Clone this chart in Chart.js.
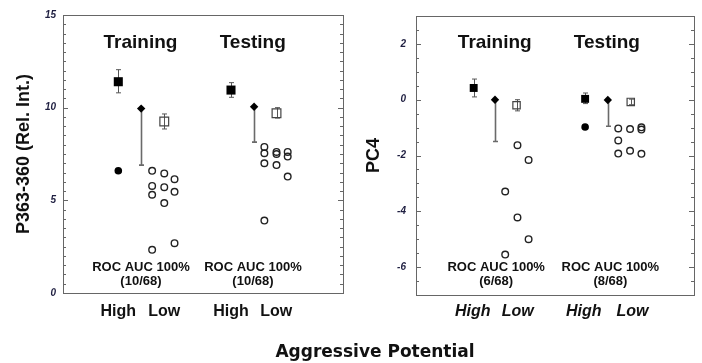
<!DOCTYPE html>
<html>
<head>
<meta charset="utf-8">
<script src="https://cdn.jsdelivr.net/npm/chart.js@4/dist/chart.umd.min.js"></script>
<style>
  html, body { margin: 0; padding: 0; background: #fff; }
  #wrap { position: relative; width: 702px; height: 363px; overflow: hidden; }
  canvas { position: absolute; top: 0; }
  #c1 { left: 0; }
  #c2 { left: 351px; }
  #xtitle {
    position: absolute; left: 375px; top: 341px; transform: translateX(-50%);
    font: bold 17px 'DejaVu Sans', sans-serif; line-height: 20px;
    white-space: nowrap; color: #111;
  }
</style>
</head>
<body>
<div id="wrap">
  <canvas id="c1" width="351" height="363"></canvas>
  <canvas id="c2" width="351" height="363"></canvas>
  <div id="xtitle">Aggressive Potential</div>
</div>
<script>
  // shared labels
  const GROUPS = ['Training', 'Testing'];
  const LEVELS = ['High', 'Low'];
  const ROC_LINE = 'ROC AUC 100%';

  // panel A: P363-360
  const A_TITLE = 'P363-360 (Rel. Int.)';
  const A_Y_TICKS = [0, 5, 10, 15];
  const A_FEATURES = ['(10/68)', '(10/68)'];
  const A_LEVEL_X = [2.37, 4.34, 7.2, 9.14];
  const A_HIGH_MEAN = [[2.37, 11.4], [7.2, 10.95]];
  const A_HIGH_ERR = [[10.8, 12.05], [10.56, 11.35]];
  const A_HIGH_PTS = [[2.37, 6.6]];
  const A_CUTOFF = [[3.35, 9.95], [8.19, 10.05]];
  const A_CUTOFF_LO = [6.9, 8.14];
  const A_LOW_MEAN = [[4.34, 9.25], [9.15, 9.7]];
  const A_LOW_ERR = [[8.85, 9.66], [9.44, 10.0]];
  const A_LOW_PTS = [
    [3.82, 6.59], [3.82, 5.78], [3.82, 5.30], [3.82, 2.33],
    [4.34, 6.45], [4.34, 5.71], [4.34, 4.85],
    [4.78, 6.14], [4.78, 5.46], [4.78, 2.69],
    [8.63, 7.88], [8.63, 7.54], [8.63, 7.0], [8.63, 3.91],
    [9.15, 7.61], [9.15, 7.5], [9.15, 6.9],
    [9.63, 7.61], [9.63, 7.36], [9.63, 6.28],
  ];

  // panel B: PC4
  const B_TITLE = 'PC4';
  const B_Y_TICKS = [-6, -4, -2, 0, 2];
  const B_FEATURES = ['(6/68)', '(8/68)'];
  const B_LEVEL_X = [2.45, 4.39, 7.24, 9.34];
  const B_HIGH_MEAN = [[2.49, 0.42], [7.3, 0.03]];
  const B_HIGH_ERR = [[0.1, 0.74], [-0.14, 0.24]];
  const B_HIGH_PTS = [[7.3, -0.98]];
  const B_CUTOFF = [[3.41, 0], [8.28, -0.01]];
  const B_CUTOFF_LO = [-1.5, -0.95];
  const B_LOW_MEAN = [[4.34, -0.2], [9.27, -0.08]];
  const B_LOW_ERR = [[-0.4, 0.0], [-0.18, 0.02]];
  const B_LOW_PTS = [
    [3.85, -3.29], [3.85, -5.55],
    [4.38, -1.63], [4.38, -4.22],
    [4.86, -2.16], [4.86, -5.0],
    [8.73, -1.03], [8.73, -1.46], [8.73, -1.93],
    [9.24, -1.05], [9.24, -1.83],
    [9.73, -0.99], [9.73, -1.07], [9.73, -1.94],
  ];

  const FONT = "'Liberation Sans', Arial, sans-serif";

  function pts(list) {
    return list.map(function (p) { return { x: p[0], y: p[1] }; });
  }

  // box, inward minor/major ticks
  const framePlugin = {
    id: 'frame',
    beforeDatasetsDraw: function (chart, args, opts) {
      const ctx = chart.ctx;
      const a = chart.chartArea;
      const ys = chart.scales.y;
      ctx.save();
      ctx.strokeStyle = '#666';
      ctx.lineWidth = 1;
      ctx.strokeRect(Math.round(a.left) + 0.5, Math.round(a.top) + 0.5,
        Math.round(a.right - a.left), Math.round(a.bottom - a.top));
      ctx.beginPath();
      for (let v = ys.min + opts.minor; v < ys.max - 1e-6; v += opts.minor) {
        const y = Math.round(ys.getPixelForValue(v)) + 0.5;
        const major = Math.abs(v / opts.major - Math.round(v / opts.major)) < 1e-6;
        const len = major ? 5 : 3;
        ctx.moveTo(a.left, y); ctx.lineTo(a.left + len, y);
        ctx.moveTo(a.right, y); ctx.lineTo(a.right - len, y);
      }
      ctx.stroke();
      ctx.restore();
    },
  };

  // error bars and cutoff lines
  const barsPlugin = {
    id: 'bars',
    beforeDatasetsDraw: function (chart) {
      const ctx = chart.ctx;
      const xs = chart.scales.x, ys = chart.scales.y;
      ctx.save();
      chart.data.datasets.forEach(function (ds) {
        if (!ds.ranges) return;
        ds.data.forEach(function (p, i) {
          const r = ds.ranges[i];
          const x = Math.round(xs.getPixelForValue(p.x)) + 0.5;
          const y1 = ys.getPixelForValue(r[0]);
          const y2 = ys.getPixelForValue(r[1]);
          ctx.strokeStyle = ds.rangeColor;
          ctx.lineWidth = ds.rangeWidth;
          ctx.beginPath();
          ctx.moveTo(x, y1); ctx.lineTo(x, y2);
          ds.rangeCaps.forEach(function (c) {
            const yc = ys.getPixelForValue(r[c]);
            ctx.moveTo(x - 2.5, yc); ctx.lineTo(x + 2.5, yc);
          });
          ctx.stroke();
        });
      });
      ctx.restore();
    },
  };

  // group titles and ROC notes
  const notesPlugin = {
    id: 'notes',
    afterDraw: function (chart, args, opts) {
      const ctx = chart.ctx;
      const xs = chart.scales.x, ys = chart.scales.y;
      ctx.save();
      ctx.fillStyle = '#111';
      ctx.textAlign = 'center';
      ctx.textBaseline = 'alphabetic';
      opts.items.forEach(function (t) {
        ctx.font = t.font;
        ctx.fillText(t.text, xs.getPixelForValue(t.x), ys.getPixelForValue(t.y));
      });
      ctx.restore();
    },
  };

  function buildPanel(canvas, p) {
    const datasets = [
      {
        label: 'high mean', data: pts(p.highMean),
        pointStyle: 'rect', pointRadius: p.sqR, backgroundColor: '#000', borderWidth: 0,
        ranges: p.highErr, rangeCaps: [0, 1], rangeColor: '#555', rangeWidth: 1,
      },
      {
        label: 'high samples', data: pts(p.highPts),
        pointStyle: 'circle', pointRadius: 3.8, backgroundColor: '#000', borderWidth: 0,
      },
      {
        label: 'cutoff', data: pts(p.cutoff),
        pointStyle: 'rectRot', pointRadius: 4.2, backgroundColor: '#000', borderWidth: 0,
        ranges: p.cutoff.map(function (c, i) { return [p.cutoffLo[i], c[1]]; }),
        rangeCaps: [0], rangeColor: '#6a6a6a', rangeWidth: 1.6,
      },
      {
        label: 'low mean', data: pts(p.lowMean),
        pointStyle: 'rect', pointRadius: p.openSqR, backgroundColor: 'rgba(255,255,255,0)',
        borderColor: '#444', borderWidth: 1.2,
        ranges: p.lowErr, rangeCaps: [0, 1], rangeColor: '#555', rangeWidth: 1,
      },
      {
        label: 'low samples', data: pts(p.lowPts),
        pointStyle: 'circle', pointRadius: 3.3, backgroundColor: 'rgba(255,255,255,0)',
        borderColor: '#222', borderWidth: 1.4,
      },
    ];

    const notes = [];
    GROUPS.forEach(function (g, i) {
      notes.push({ text: g, x: p.titleX[i], y: p.titleY, font: 'bold 19px ' + FONT });
      notes.push({ text: ROC_LINE, x: p.rocX[i], y: p.rocY[0], font: 'bold 13px ' + FONT });
      notes.push({ text: p.features[i], x: p.rocX[i], y: p.rocY[1], font: 'bold 13px ' + FONT });
    });

    return new Chart(canvas, {
      type: 'scatter',
      data: { datasets: datasets },
      plugins: [framePlugin, barsPlugin, notesPlugin],
      options: {
        responsive: false,
        animation: false,
        events: [],
        layout: { padding: { top: 15, right: 8, bottom: 0, left: 0 } },
        plugins: {
          legend: { display: false },
          tooltip: { enabled: false },
          frame: { minor: 0.5, major: p.major },
          notes: { items: notes },
        },
        scales: {
          x: {
            type: 'linear', min: 0, max: 12,
            grid: { display: false, drawTicks: false },
            border: { display: false },
            afterBuildTicks: function (s) {
              s.ticks = p.levelX.map(function (v) { return { value: v }; });
            },
            afterFit: function (s) { s.height = p.xAxisH; },
            ticks: {
              autoSkip: false, maxRotation: 0, padding: p.xPad,
              color: '#111',
              font: { family: FONT, size: 16, weight: 'bold', style: p.xItalic ? 'italic' : 'normal' },
              callback: function (v, i) { return LEVELS[i % 2]; },
            },
          },
          y: {
            type: 'linear', min: p.yMin, max: p.yMax,
            grid: { display: false, drawTicks: false },
            border: { display: false },
            afterBuildTicks: function (s) {
              s.ticks = p.yTicks.map(function (v) { return { value: v }; });
            },
            afterFit: function (s) { s.width = p.yAxisW; },
            ticks: {
              padding: p.yPad, color: '#1e1e40',
              font: { family: FONT, size: 10, weight: 'bold', style: 'italic' },
            },
            title: {
              display: true, text: p.title, color: '#111',
              font: { family: FONT, size: 18, weight: 'bold' },
              padding: { top: p.titlePad, bottom: 0 },
            },
          },
        },
      },
    });
  }

  buildPanel(document.getElementById('c1'), {
    title: A_TITLE, yMin: 0, yMax: 15, yTicks: A_Y_TICKS, major: 5,
    levelX: A_LEVEL_X, highMean: A_HIGH_MEAN, highErr: A_HIGH_ERR, highPts: A_HIGH_PTS,
    cutoff: A_CUTOFF, cutoffLo: A_CUTOFF_LO, lowMean: A_LOW_MEAN, lowErr: A_LOW_ERR,
    lowPts: A_LOW_PTS, features: A_FEATURES,
    titleX: [3.32, 8.13], titleY: 13.22, rocX: [3.34, 8.14], rocY: [1.2, 0.45],
    sqR: 6.4, openSqR: 6.2, xItalic: false,
    yAxisW: 63, yPad: 7, titlePad: 13, xAxisH: 70, xPad: 9,
  });

  buildPanel(document.getElementById('c2'), {
    title: B_TITLE, yMin: -7, yMax: 3, yTicks: B_Y_TICKS, major: 2,
    levelX: B_LEVEL_X, highMean: B_HIGH_MEAN, highErr: B_HIGH_ERR, highPts: B_HIGH_PTS,
    cutoff: B_CUTOFF, cutoffLo: B_CUTOFF_LO, lowMean: B_LOW_MEAN, lowErr: B_LOW_ERR,
    lowPts: B_LOW_PTS, features: B_FEATURES,
    titleX: [3.4, 8.24], titleY: 1.86, rocX: [3.46, 8.39], rocY: [-6.14, -6.64],
    sqR: 5.6, openSqR: 5.2, xItalic: true,
    yAxisW: 65, yPad: 10, titlePad: 12, xAxisH: 68, xPad: 7,
  });
</script>
</body>
</html>
